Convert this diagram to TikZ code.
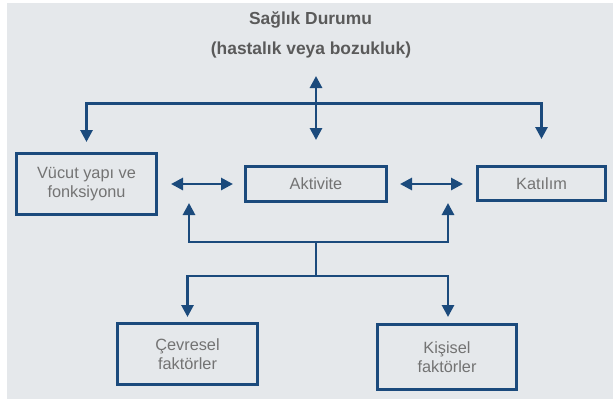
\documentclass[tikz,border=0pt]{standalone}
\usepackage{fontspec}
\setmainfont{Liberation Sans}
\usetikzlibrary{arrows.meta}
\definecolor{bgc}{HTML}{E5E8EB}
\definecolor{bluec}{HTML}{1B4A7C}
\definecolor{txtc}{HTML}{737373}
\definecolor{titc}{HTML}{5A5A5A}
\tikzset{
  boxnode/.style={draw=bluec, line width=3pt, fill=bgc, inner sep=0pt, align=center,
    text=txtc, font=\fontsize{16.3}{19}\selectfont},
  titlenode/.style={text=titc, font=\bfseries\fontsize{17.4}{20}\selectfont, inner sep=0pt},
  conn/.style={draw=bluec, line width=2.8pt},
  tip/.tip={Triangle[length=12pt,width=12pt]},
  biarrow/.style={conn, tip-tip}
}
\begin{document}
\begin{tikzpicture}[x=1pt,y=-1pt]
\useasboundingbox (0,0) rectangle (613,399);
\fill[bgc] (7,3) rectangle (613,399);

\node[titlenode] (t1) at (310.5,20) {Sağlık Durumu};
\node[titlenode] (t2) at (311,50) {(hastalık veya bozukluk)};

\node[boxnode, minimum width=140pt, minimum height=61pt] (vucut) at (86.5,184) {Vücut yapı ve\\fonksiyonu};
\node[boxnode, minimum width=141pt, minimum height=35pt] (aktivite) at (316,184) {Aktivite};
\node[boxnode, minimum width=128pt, minimum height=34pt] (katilim) at (541.5,183.5) {Katılım};
\node[boxnode, minimum width=140pt, minimum height=61pt] (cevre) at (187.5,354) {Çevresel\\faktörler};
\node[boxnode, minimum width=139pt, minimum height=65pt] (kisi) at (447,357) {Kişisel\\faktörler};

% upper bus
\coordinate (ub) at (316,103.5);
\coordinate (ut) at (316,76);
\draw[biarrow] ([yshift=10pt]vucut.north) |- (ub) -| ([yshift=26pt]katilim.north);
\draw[biarrow] (ut) -- ([yshift=25pt]aktivite.north);

% horizontal double arrows
\draw[biarrow] ([xshift=13pt]vucut.east |- aktivite.west) -- ([xshift=-11pt]aktivite.west);
\draw[biarrow] ([xshift=12pt]aktivite.east) -- ([xshift=-13pt]aktivite.east -| katilim.west);

% lower bus
\coordinate (lb) at (316,242);
\coordinate (lb2) at (316,276);
\coordinate (ua1) at (189,203);
\coordinate (ua2) at (448,203);
\draw[biarrow] (ua1) |- (lb) -| (ua2);
\draw[conn] (lb) -- (lb2);
\draw[biarrow] ([yshift=5pt]cevre.north) |- (lb2) -| ([yshift=6pt,xshift=1pt]kisi.north);
\end{tikzpicture}
\end{document}
